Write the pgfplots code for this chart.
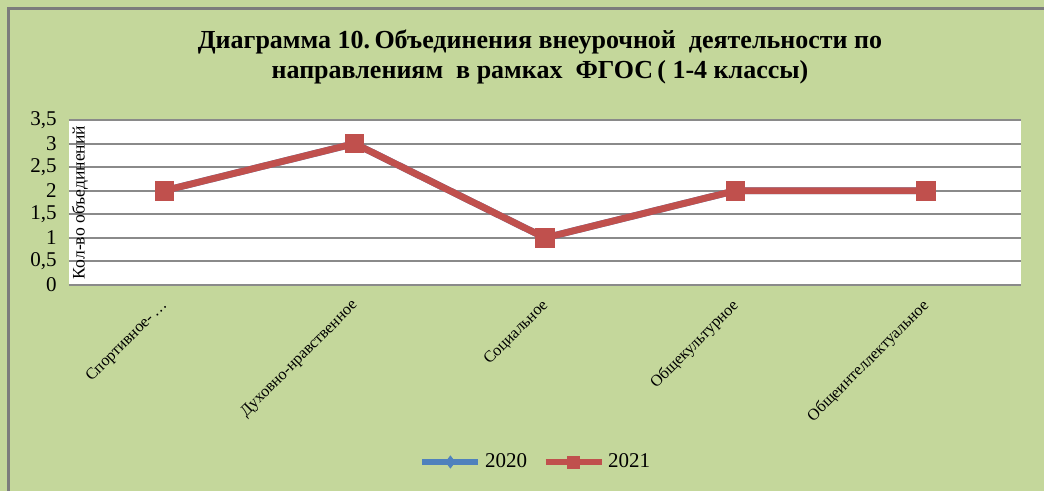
\documentclass[border=0pt]{standalone}
\usepackage{fontspec}
\setmainfont{Liberation Serif}
\usepackage{pgfplots}
\pgfplotsset{compat=1.18}
\definecolor{bg}{HTML}{C4D79B}
\definecolor{s20}{HTML}{4F81BD}
\definecolor{s21}{HTML}{C0504D}
\definecolor{gridc}{HTML}{8A8A8A}
\begin{document}
\begin{tikzpicture}
% 1 px of the reference = 0.5pt
\fill[bg] (-34.5pt,-103pt) rectangle (487.5pt,142.5pt);
\draw[gridc!90!black, line width=1.4pt] (-30.2pt,-103pt) -- (-30.2pt,138.4pt) -- (487.5pt,138.4pt);
\begin{axis}[
  at={(0pt,0pt)}, anchor=south west,
  scale only axis, width=476pt, height=82.5pt,
  axis background/.style={fill=white},
  xmin=-0.5, xmax=4.5, ymin=0, ymax=3.5,
  xtick={0,1,2,3,4},
  xticklabels={Спортивное-\,\dots,Духовно-нравственное,Социальное,Общекультурное,Общеинтеллектуальное},
  x tick label style={xshift=0.5pt, yshift=-9pt, rotate=45, anchor=east, font=\fontsize{8.1}{9}\selectfont, inner sep=0pt},
  ytick={0,0.5,...,3.5},
  y tick label style={font=\fontsize{10.5}{11}\selectfont, inner sep=0pt, xshift=-6pt},
  /pgf/number format/.cd, use comma, assume math mode=true, /pgfplots/.cd,
  xmajorgrids=false, ymajorgrids=true,
  y grid style={gridc, line width=1pt},
  axis line style={draw=none},
  major tick length=0pt,
  clip=false,
  legend style={at={(234pt,-88.5pt)}, anchor=center, draw=none, fill=none,
    legend columns=2, font=\fontsize{10.5}{11}\selectfont,
    /tikz/every even column/.append style={column sep=6pt}},
  legend cell align=left,
  legend image code/.code={\draw[#1, line width=2.6pt, mark size=3pt, mark repeat=2, mark phase=2] plot coordinates {(0pt,0pt) (14pt,0pt) (28pt,0pt)};},
]
\addplot[s20, line width=3.4pt, mark=diamond*, mark size=3.5pt, mark options={solid, line width=0.4pt}]
  coordinates {(0,2) (1,3) (2,1) (3,2) (4,2)};
\addplot[s21, line width=3.4pt, mark=square*, mark size=4.6pt, mark options={solid, line width=0.4pt}]
  coordinates {(0,2) (1,3) (2,1) (3,2) (4,2)};
\legend{2020,2021}
\node[rotate=90, font=\fontsize{8.8}{10}\selectfont] at ([xshift=5.5pt]rel axis cs:0,0.5) {Кол-во объединений};
\end{axis}
\node[align=center, font=\bfseries\fontsize{13}{15}\selectfont] at (235.5pt,114pt)
  {Диаграмма 10.\,Объединения внеурочной \ деятельности по\\направлениям \ в рамках \ ФГОС\,( 1-4 классы)};
\pgfresetboundingbox
\path (-34.5pt,-103pt) rectangle (487.5pt,142.5pt);
\end{tikzpicture}
\end{document}
